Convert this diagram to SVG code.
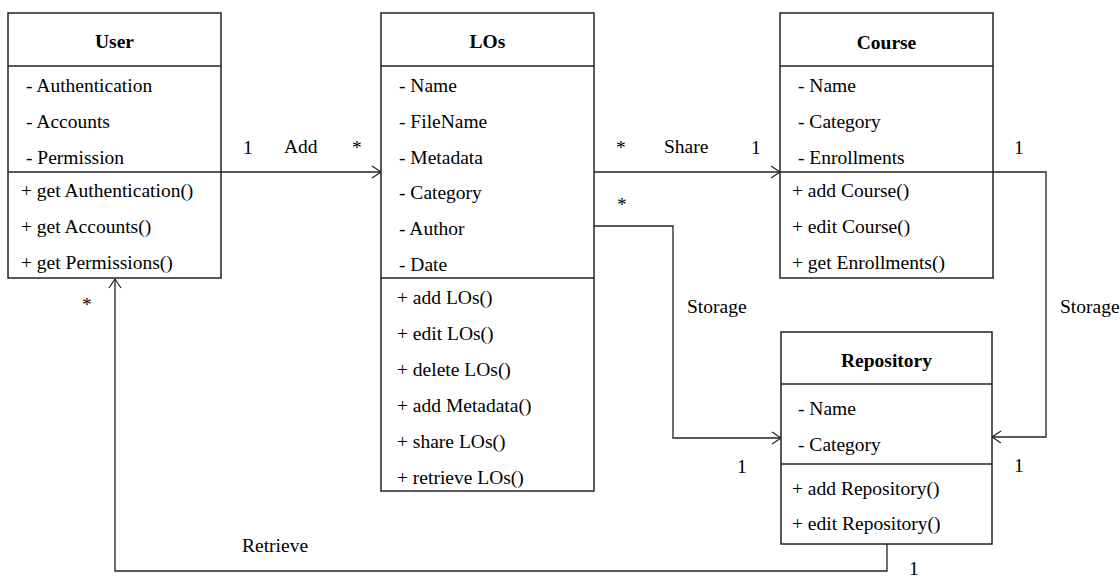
<svg xmlns="http://www.w3.org/2000/svg" width="1120" height="579" viewBox="0 0 1120 579" font-family="'Liberation Serif', Tinos, 'Times New Roman', 'DejaVu Serif', serif">
<style>
text{font-family:'Liberation Serif',Tinos,'Times New Roman','DejaVu Serif',serif;font-size:19.5px;fill:#000}
.t{font-weight:bold;text-anchor:middle}
.box{fill:#fff;stroke:#222;stroke-width:1.5}
.sep{stroke:#222;stroke-width:1.5}
.c{fill:none;stroke:#222;stroke-width:1.3}
</style>
<defs>
<marker id="arr" markerUnits="userSpaceOnUse" markerWidth="12" markerHeight="14" refX="9" refY="6.5" orient="auto" overflow="visible">
<path d="M0,0.5 L9,6.5 L0,12.5" fill="none" stroke="#222" stroke-width="1.2"/>
</marker>
</defs>
<g id="connectors">
<path class="c" d="M221,172 H381" marker-end="url(#arr)"/>
<path class="c" d="M594,172 H780" marker-end="url(#arr)"/>
<path class="c" d="M594,226 H673 V438 H781" marker-end="url(#arr)"/>
<path class="c" d="M993,172 H1046 V437 H992" marker-end="url(#arr)"/>
<path class="c" d="M887,544 V571 H115 V279" marker-end="url(#arr)"/>
<text x="243" y="154">1</text>
<text x="284" y="153">Add</text>
<text x="352" y="154">*</text>
<text x="616" y="154">*</text>
<text x="664" y="153">Share</text>
<text x="751" y="154">1</text>
<text x="1014" y="154">1</text>
<text x="617" y="211">*</text>
<text x="687" y="313">Storage</text>
<text x="1060" y="313">Storage</text>
<text x="737" y="473">1</text>
<text x="1014" y="472">1</text>
<text x="909" y="575">1</text>
<text x="242" y="552">Retrieve</text>
<text x="82" y="311">*</text>
</g>
<g id="user">
<rect class="box" x="8" y="13" width="213" height="265"/>
<line class="sep" x1="8" y1="66" x2="221" y2="66"/>
<line class="sep" x1="8" y1="172" x2="221" y2="172"/>
<text class="t" x="114.5" y="48">User</text>
<text x="26" y="92">- Authentication</text>
<text x="26" y="128">- Accounts</text>
<text x="26" y="164">- Permission</text>
<text x="21" y="197">+ get Authentication()</text>
<text x="21" y="233">+ get Accounts()</text>
<text x="21" y="269">+ get Permissions()</text>
</g>
<g id="los">
<rect class="box" x="381" y="13" width="213" height="478"/>
<line class="sep" x1="381" y1="66" x2="594" y2="66"/>
<line class="sep" x1="381" y1="278" x2="594" y2="278"/>
<text class="t" x="487.5" y="48">LOs</text>
<text x="399" y="92">- Name</text>
<text x="399" y="128">- FileName</text>
<text x="399" y="164">- Metadata</text>
<text x="399" y="199">- Category</text>
<text x="399" y="235">- Author</text>
<text x="399" y="271">- Date</text>
<text x="397" y="304">+ add LOs()</text>
<text x="397" y="340">+ edit LOs()</text>
<text x="397" y="376">+ delete LOs()</text>
<text x="397" y="412">+ add Metadata()</text>
<text x="397" y="448">+ share LOs()</text>
<text x="397" y="484">+ retrieve LOs()</text>
</g>
<g id="course">
<rect class="box" x="780" y="13" width="213" height="265"/>
<line class="sep" x1="780" y1="66" x2="993" y2="66"/>
<line class="sep" x1="780" y1="172" x2="993" y2="172"/>
<text class="t" x="886.5" y="49">Course</text>
<text x="798" y="92">- Name</text>
<text x="798" y="128">- Category</text>
<text x="798" y="164">- Enrollments</text>
<text x="792" y="197">+ add Course()</text>
<text x="792" y="233">+ edit Course()</text>
<text x="792" y="269">+ get Enrollments()</text>
</g>
<g id="repository">
<rect class="box" x="781" y="332" width="211" height="212"/>
<line class="sep" x1="781" y1="384" x2="992" y2="384"/>
<line class="sep" x1="781" y1="464" x2="992" y2="464"/>
<text class="t" x="886.5" y="367">Repository</text>
<text x="798" y="415">- Name</text>
<text x="798" y="451">- Category</text>
<text x="792" y="495">+ add Repository()</text>
<text x="792" y="530">+ edit Repository()</text>
</g>
</svg>
